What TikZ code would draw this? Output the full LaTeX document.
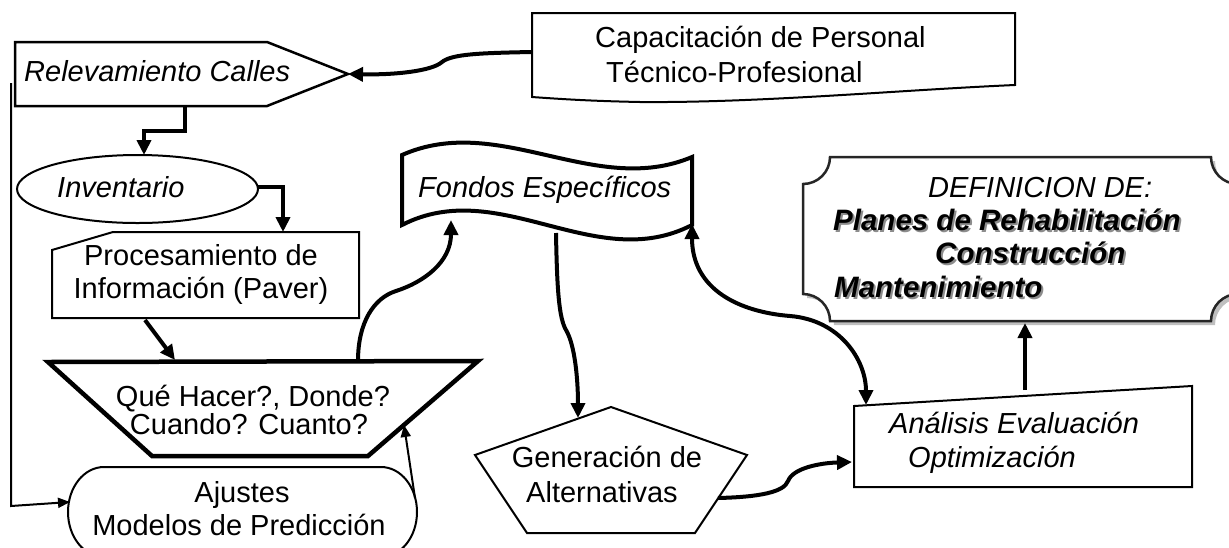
\documentclass[tikz,border=0pt]{standalone}
\usepackage{fontspec}
\setmainfont{Liberation Sans}
\usetikzlibrary{arrows.meta}
\begin{document}
\begin{tikzpicture}[x=1pt,y=-1pt,
  txt/.style={inner sep=0pt, font=\fontsize{29pt}{33pt}\selectfont},
  itx/.style={inner sep=0pt, font=\fontsize{29pt}{33pt}\selectfont\itshape},
  bix/.style={inner sep=0pt, font=\fontsize{29.5pt}{33pt}\selectfont\bfseries\itshape},
  bishadow/.style={bix, text=black!45},
  thinshape/.style={draw=black, line width=2pt, fill=white, line join=miter},
  thickshape/.style={draw=black, line width=4.5pt, fill=white, line join=miter},
  conn/.style={line width=4pt, -{Triangle[length=15pt,width=14pt]}},
  thinconn/.style={line width=2pt, -{Triangle[length=12pt,width=10pt]}},
]
\useasboundingbox (0,0) rectangle (1229,547);
\begin{scope}
\clip (0,0) rectangle (1229,547);

% ---------- shapes ----------
% Relevamiento Calles
\draw[thinshape, line width=2.5pt] (15,42) -- (267,42) -- (348,74) -- (267,106) -- (15,106) -- cycle;
\coordinate (relTip) at (348,74);
\coordinate (relBot) at (185,106);
\coordinate (relLeft) at (11,83);

% Capacitacion (document shape)
\draw[thinshape] (532,13) -- (1015,13) -- (1015,85)
  .. controls (900,90) and (760,103) .. (640,102)
  .. controls (590,101) and (560,99) .. (532,97) -- cycle;
\coordinate (capLeft) at (532,52);

% Inventario
\draw[thinshape] (137.5,189) ellipse [x radius=120.5pt, y radius=34pt];
\coordinate (invTop) at (144,155);
\coordinate (invRight) at (258,187);

% Procesamiento (card)
\draw[thinshape] (113,232) -- (359,232) -- (359,318) -- (52,318) -- (52,250) -- cycle;
\coordinate (procTop) at (283,232);
\coordinate (procBot) at (145,320);

% Que Hacer (trapezoid)
\draw[thickshape] (48,362) -- (478,361) -- (368,456) -- (152,456) -- cycle;
\coordinate (queTopL) at (175,360);
\coordinate (queTopR) at (358,361);
\coordinate (queRight) at (404,425);

% Ajustes (stadium)
\draw[thinshape] (104,467) -- (381,467)
  .. controls (400.9,467) and (417,487.1) .. (417,512)
  .. controls (417,536.9) and (400.9,557) .. (381,557)
  -- (104,557)
  .. controls (84.1,557) and (68,536.9) .. (68,512)
  .. controls (68,487.1) and (84.1,467) .. (104,467) -- cycle;
\coordinate (ajuLeft) at (70,502);
\coordinate (ajuRight) at (415,498);

% Fondos Especificos (wave)
\draw[thickshape, line width=4pt] (402,155) .. controls (499,112) and (595,198) .. (692,157)
  -- (692,225) .. controls (595,275) and (499,175) .. (402,225) -- cycle;
\coordinate (fonBotL) at (451,220);
\coordinate (fonBotM) at (556,233);
\coordinate (fonBotR) at (692,224);

% Generacion (pentagon)
\draw[thinshape] (611,407) -- (747,455) -- (695,533) -- (527,533) -- (475,455) -- cycle;
\coordinate (genTop) at (578,418);
\coordinate (genRight) at (718,498);

% Analisis
\draw[thinshape] (854,406) -- (1192,386) -- (1192,487) -- (854,487) -- cycle;
\coordinate (anaLeft) at (852,462);
\coordinate (anaTopL) at (866,405);
\coordinate (anaTop) at (1025,390);

% DEFINICION (plaque) with shadow
\begin{scope}[shift={(4,4)}]
\fill[black!25] (830,157) -- (1211,157) .. controls (1211,171.9) and (1223.1,184) .. (1238,184)
  -- (1238,294) .. controls (1223.1,294) and (1211,306.1) .. (1211,321)
  -- (830,321) .. controls (830,306.1) and (817.9,294) .. (803,294)
  -- (803,184) .. controls (817.9,184) and (830,171.9) .. (830,157) -- cycle;
\end{scope}
\draw[fill=white, draw=black!85, line width=2.5pt] (830,157) -- (1211,157) .. controls (1211,171.9) and (1223.1,184) .. (1238,184)
  -- (1238,294) .. controls (1223.1,294) and (1211,306.1) .. (1211,321)
  -- (830,321) .. controls (830,306.1) and (817.9,294) .. (803,294)
  -- (803,184) .. controls (817.9,184) and (830,171.9) .. (830,157) -- cycle;
\coordinate (defBot) at (1025,323);

% ---------- texts ----------
\node[itx, anchor=base west] (tRel) at (24,81) {Relevamiento Calles};
\node[txt, anchor=base west] (tCap1) at (595,47) {Capacitación de Personal};
\node[txt, anchor=base west] (tCap2) at (606,82) {Técnico-Profesional};
\node[itx, anchor=base west] (tInv) at (57,197) {Inventario};
\node[txt, anchor=base] (tProc1) at (201,265) {Procesamiento de};
\node[txt, anchor=base] (tProc2) at (201,298) {Información (Paver)};
\node[txt, anchor=base] (tQue1) at (253,406) {Qué Hacer?, Donde?};
\node[txt, anchor=base] (tQue2) at (249,434) {Cuando? Cuanto?};
\node[txt, anchor=base] (tAju1) at (242,502) {Ajustes};
\node[txt, anchor=base] (tAju2) at (239,535) {Modelos de Predicción};
\node[itx, anchor=base west] (tFon) at (418,197) {Fondos Específicos};
\node[txt, anchor=base] (tGen1) at (607,467) {Generación de};
\node[txt, anchor=base] (tGen2) at (602,502) {Alternativas};
\node[itx, anchor=base west] (tAna1) at (889,433) {Análisis Evaluación};
\node[itx, anchor=base west] (tAna2) at (908,467) {Optimización};
\node[itx, anchor=base west] (tDef0) at (928,197) {DEFINICION DE:};
\node[bishadow, anchor=base west] (sDef1) at (835,232) {Planes de Rehabilitación};
\node[bishadow, anchor=base west] (sDef2) at (937,265) {Construcción};
\node[bishadow, anchor=base west] (sDef3) at (836,299) {Mantenimiento};
\node[bix, anchor=base west] (tDef1) at (833,230) {Planes de Rehabilitación};
\node[bix, anchor=base west] (tDef2) at (935,263) {Construcción};
\node[bix, anchor=base west] (tDef3) at (834,297) {Mantenimiento};

% ---------- connectors ----------
\draw[conn] (capLeft) .. controls (480,53) and (452,54) .. (442,62)
  .. controls (432,71) and (395,75) .. (relTip);
\draw[conn] (relBot) -- (185,131) -- (144,131) -- (invTop);
\draw[conn] (invRight) -- (283,187) -- (procTop);
\draw[conn] (procBot) -- (queTopL);
\draw[thinconn] (relLeft) -- (11,506) -- (ajuLeft);
\draw[thinconn] (ajuRight) -- (queRight);
\draw[conn] (queTopR) .. controls (358,322) and (374,298) .. (396,291)
  .. controls (424,282) and (451,262) .. (fonBotL);
\draw[conn] (fonBotM) .. controls (557,290) and (559,318) .. (566,330)
  .. controls (575,345) and (578,380) .. (genTop);
\draw[conn] (genRight) .. controls (760,497) and (784,492) .. (788,481)
  .. controls (793,468) and (820,463) .. (anaLeft);
\draw[conn] (anaTop) -- (defBot);
\draw[line width=4pt, {Triangle[length=15pt,width=14pt]}-{Triangle[length=15pt,width=14pt]}]
  (fonBotR) .. controls (692,290) and (740,312) .. (790,316)
  .. controls (840,320) and (866,360) .. (anaTopL);
\end{scope}
\end{tikzpicture}
\end{document}
